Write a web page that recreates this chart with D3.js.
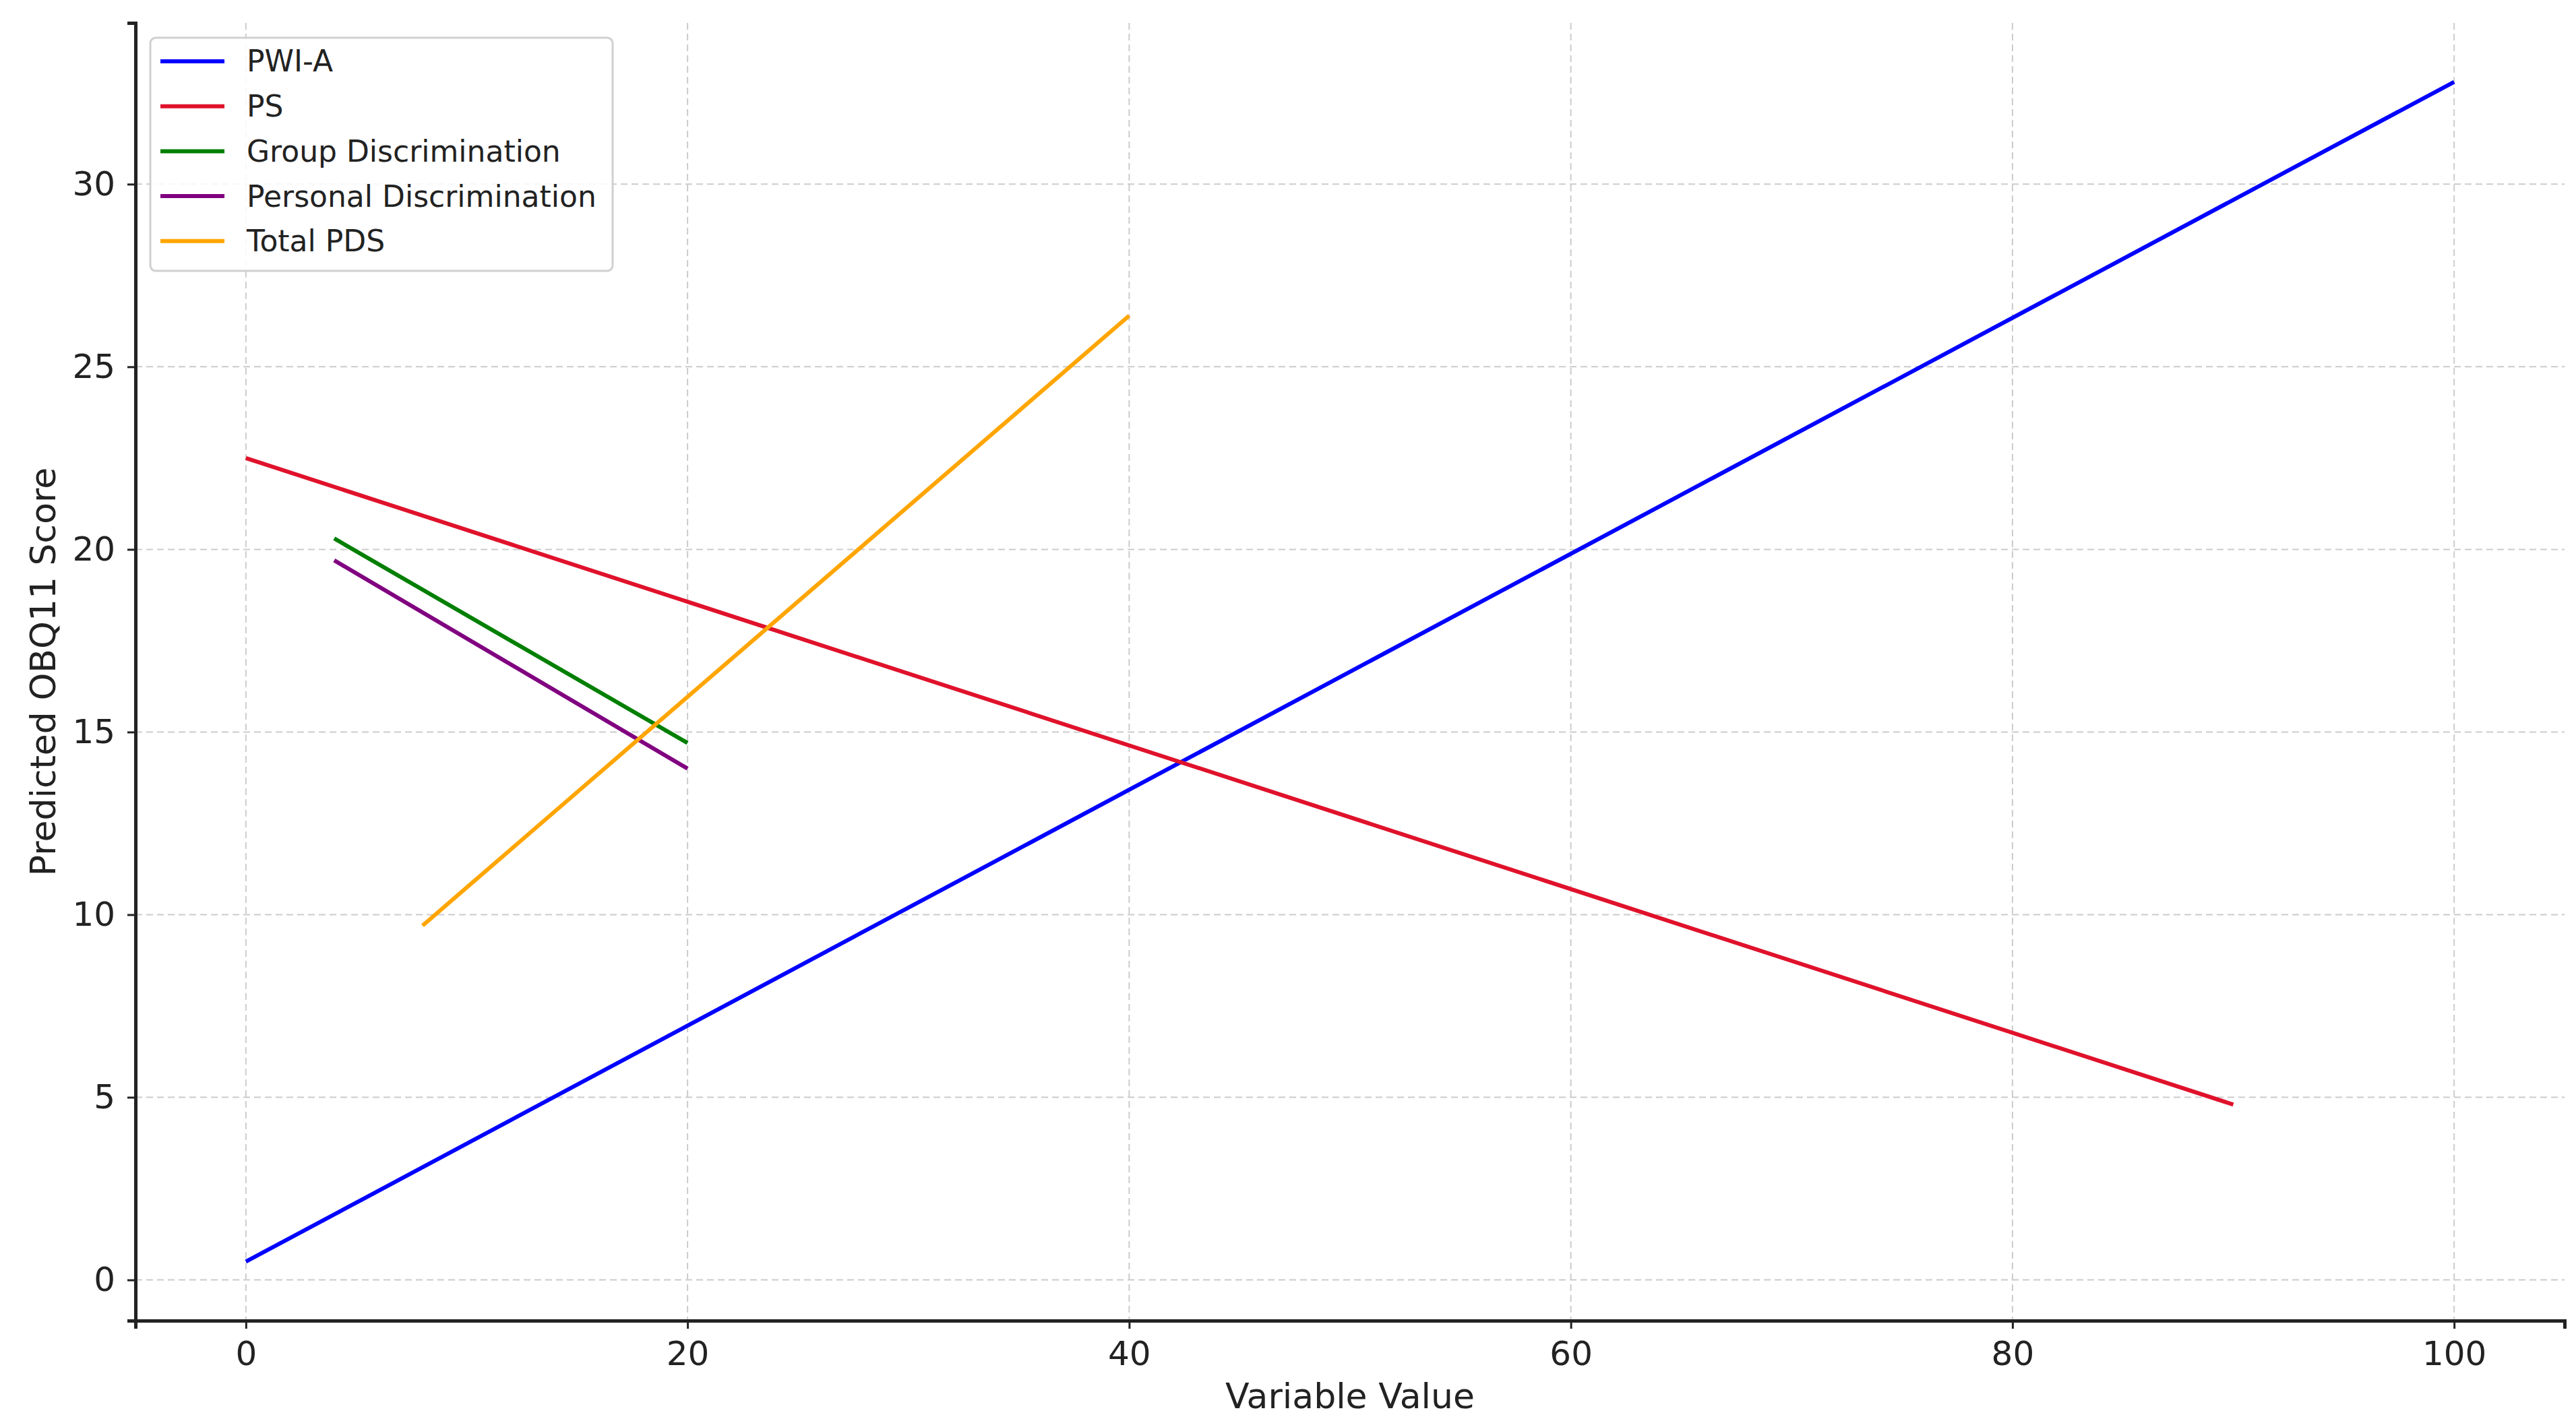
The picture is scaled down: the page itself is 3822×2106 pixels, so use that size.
<!DOCTYPE html>
<html>
<head>
<meta charset="utf-8">
<script src="https://cdn.jsdelivr.net/npm/d3@7"></script>
<style>
  body { margin: 0; background: #fff; }
  text { font-family: "DejaVu Sans", sans-serif; fill: #222; }
</style>
</head>
<body>
<script>
// series names, colours and endpoints
var names = ["PWI-A", "PS", "Group Discrimination", "Personal Discrimination", "Total PDS"];
var colors = ["#0000ff", "#e0122b", "#007f00", "#800080", "#ffa500"];
var pwiA = [[0, 0.5], [100, 32.8]];
var ps = [[0, 22.5], [90, 4.8]];
var groupDisc = [[4, 20.3], [20, 14.7]];
var personalDisc = [[4, 19.7], [20, 14.0]];
var totalPds = [[8, 9.7], [40, 26.4]];
var xTicks = [0, 20, 40, 60, 80, 100];
var yTicks = [0, 5, 10, 15, 20, 25, 30];

var series = [pwiA, ps, groupDisc, personalDisc, totalPds];

var W = 3822, H = 2106;
var mLeft = 201, mRight = 3805, mTop = 34, mBottom = 1960;

var svg = d3.select("body").append("svg")
    .attr("width", W)
    .attr("height", H);

var x = d3.scaleLinear().domain([-5, 105]).range([mLeft, mRight]);
var y = d3.scaleLinear().domain([-1.115, 34.415]).range([mBottom, mTop]);

// grid
svg.append("g").selectAll("line").data(xTicks).enter().append("line")
    .attr("x1", function (d) { return x(d); })
    .attr("x2", function (d) { return x(d); })
    .attr("y1", mTop).attr("y2", mBottom)
    .attr("stroke", "#cccccc").attr("stroke-width", 2)
    .attr("stroke-dasharray", "10,6");

svg.append("g").selectAll("line").data(yTicks).enter().append("line")
    .attr("y1", function (d) { return y(d); })
    .attr("y2", function (d) { return y(d); })
    .attr("x1", mLeft).attr("x2", mRight)
    .attr("stroke", "#cccccc").attr("stroke-width", 2)
    .attr("stroke-dasharray", "10,6");

// axes
var xAxis = svg.append("g")
    .attr("transform", "translate(0," + mBottom + ")")
    .call(d3.axisBottom(x).tickValues(xTicks).tickSize(12).tickPadding(18));
var yAxis = svg.append("g")
    .attr("transform", "translate(" + mLeft + ",0)")
    .call(d3.axisLeft(y).tickValues(yTicks).tickSize(12).tickPadding(18));

[xAxis, yAxis].forEach(function (a) {
    a.select(".domain").attr("stroke", "#222").attr("stroke-width", 5);
    a.selectAll(".tick line").attr("stroke", "#222").attr("stroke-width", 3);
    a.selectAll(".tick text").style("font-size", "50px")
        .style("font-family", "DejaVu Sans, sans-serif").attr("fill", "#222");
});

svg.append("text")
    .attr("x", (mLeft + mRight) / 2).attr("y", 2090)
    .attr("text-anchor", "middle")
    .style("font-size", "52px")
    .text("Variable Value");

svg.append("text")
    .attr("transform", "translate(82," + (mTop + mBottom) / 2 + ") rotate(-90)")
    .attr("text-anchor", "middle")
    .style("font-size", "52px")
    .text("Predicted OBQ11 Score");

// lines
var line = d3.line()
    .x(function (d) { return x(d[0]); })
    .y(function (d) { return y(d[1]); });

svg.append("g").selectAll("path").data(series).enter().append("path")
    .attr("d", line)
    .attr("fill", "none")
    .attr("stroke", function (d, i) { return colors[i]; })
    .attr("stroke-width", 6);

// legend
var legend = svg.append("g");
legend.append("rect")
    .attr("x", 223).attr("y", 56)
    .attr("width", 686).attr("height", 346)
    .attr("rx", 8)
    .attr("fill", "#fff").attr("fill-opacity", 0.85)
    .attr("stroke", "#d0d0d0").attr("stroke-width", 3);

var rows = legend.selectAll("g.row").data(names).enter().append("g")
    .attr("transform", function (d, i) { return "translate(0," + (91 + i * 66.7) + ")"; });
rows.append("line")
    .attr("x1", 238).attr("x2", 333)
    .attr("stroke", function (d, i) { return colors[i]; })
    .attr("stroke-width", 6);
rows.append("text")
    .attr("x", 366).attr("dy", "0.35em")
    .style("font-size", "44px")
    .text(function (d) { return d; });
</script>
</body>
</html>
